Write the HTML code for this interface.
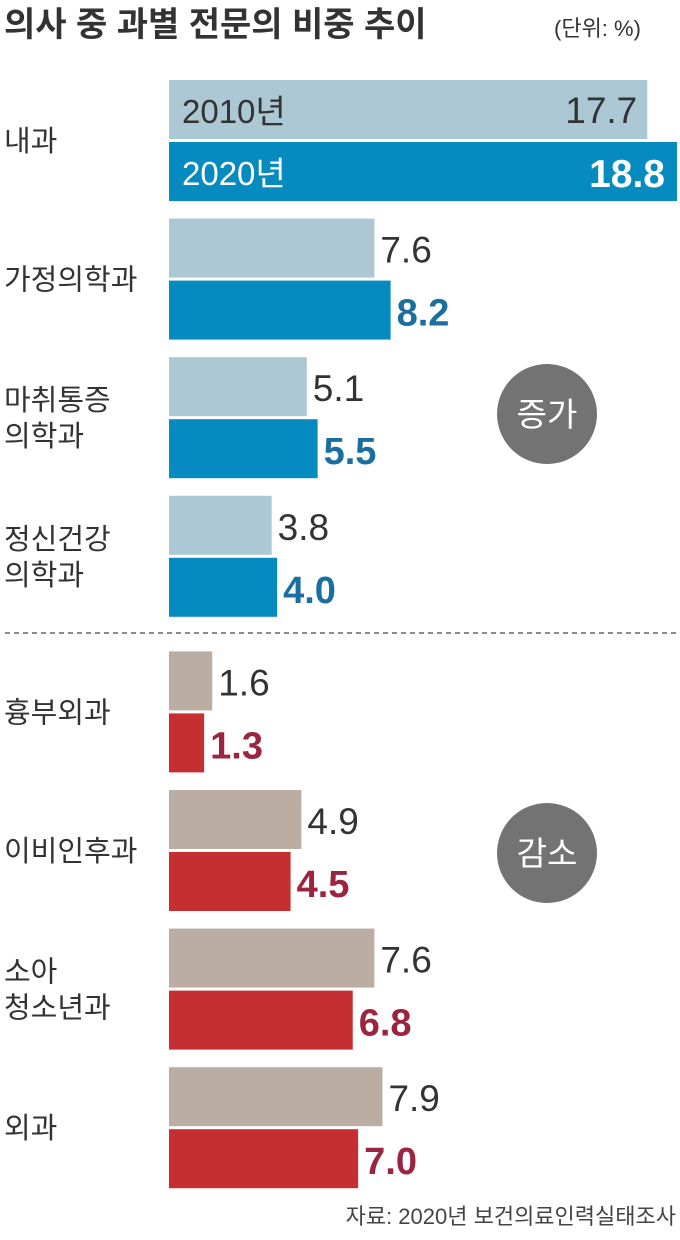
<!DOCTYPE html>
<html><head><meta charset="utf-8">
<style>
body{margin:0;background:#fff;width:680px;height:1235px;overflow:hidden;font-family:"Liberation Sans","Noto Sans CJK KR",sans-serif;}
svg text{font-family:"Liberation Sans","Noto Sans CJK KR",sans-serif;}
</style></head>
<body>
<svg id="chart" width="680" height="1235" xmlns="http://www.w3.org/2000/svg">
<text x="4" y="36" font-size="34" font-weight="bold" fill="#333">의사 중 과별 전문의 비중 추이</text>
<text x="554" y="36" font-size="22" fill="#333">(단위: %)</text>
<line x1="5" y1="633" x2="677" y2="633" stroke="#666" stroke-width="1.5" stroke-dasharray="5,4"/>
<circle cx="547" cy="414" r="50" fill="#737373"/>
<text x="547" y="426" font-size="33" fill="#fff" text-anchor="middle">증가</text>
<circle cx="547" cy="853" r="50" fill="#737373"/>
<text x="547" y="865" font-size="33" fill="#fff" text-anchor="middle">감소</text>
<text x="676" y="1224" font-size="22" fill="#444" text-anchor="end">자료: 2020년 보건의료인력실태조사</text>
<g id="bars"></g>
</svg>
<script>
const categories=[["내과"],["가정의학과"],["마취통증","의학과"],["정신건강","의학과"],["흉부외과"],["이비인후과"],["소아","청소년과"],["외과"]];
const values2010=[17.7,7.6,5.1,3.8,1.6,4.9,7.6,7.9];
const values2020=[18.8,8.2,5.5,4.0,1.3,4.5,6.8,7.0];
const valueLabels2010=["17.7","7.6","5.1","3.8","1.6","4.9","7.6","7.9"];
const valueLabels2020=["18.8","8.2","5.5","4.0","1.3","4.5","6.8","7.0"];
const NS="http://www.w3.org/2000/svg";
const g=document.getElementById('bars');
const x0=169, scale=(677-169)/18.8;
const xs=v=>v*scale;
const groupY=i=>80+i*138.6+(i>=4?17:0);
const barH=59;
function mk(tag,attrs){const e=document.createElementNS(NS,tag);for(const k in attrs)e.setAttribute(k,attrs[k]);g.appendChild(e);return e;}
categories.forEach((cat,i)=>{
  const y=groupY(i);
  const dec=i>=4;
  const cat_cy=y+barH+1;
  const lines=cat.length;
  cat.forEach((ln,j)=>{
    const t=mk('text',{x:4,y:cat_cy+11+(j-(lines-1)/2)*36,'font-size':29,fill:'#333'});
    
    
    t.textContent=ln;
  });
  const w1=xs(values2010[i]), w2=xs(values2020[i]);
  const b1=mk('rect',{x:x0,y:y,width:w1,height:barH,fill:dec?'#bcada3':'#abc8d4'});
  
  
  const b2=mk('rect',{x:x0,y:y+barH+3,width:w2,height:barH,fill:dec?'#c62f32':'#068bc1'});
  
  
  if(i===0){
    const a=mk('text',{x:182,y:y+43,'font-size':33,fill:'#333'});a.textContent='2010년';
    
    
    const b=mk('text',{x:182,y:y+barH+3+43,'font-size':33,fill:'#fff'});b.textContent='2020년';
    
    
    const c=mk('text',{x:x0+w1-10,y:y+43,'font-size':37,fill:'#333','text-anchor':'end'});c.textContent=valueLabels2010[i];
    
    
    const d=mk('text',{x:x0+w2-12,y:y+barH+3+45,'font-size':39,fill:'#fff','text-anchor':'end','font-weight':'bold'});d.textContent=valueLabels2020[i];
    
    
  } else {
    const c=mk('text',{x:x0+w1+6,y:y+44,'font-size':37,fill:'#333'});c.textContent=valueLabels2010[i];
    
    
    const d=mk('text',{x:x0+w2+6,y:y+barH+3+45,'font-size':38,'font-weight':'bold',fill:dec?'#9b2440':'#1b6ea0'});d.textContent=valueLabels2020[i];
    
    
  }
});
</script>
</body></html>
